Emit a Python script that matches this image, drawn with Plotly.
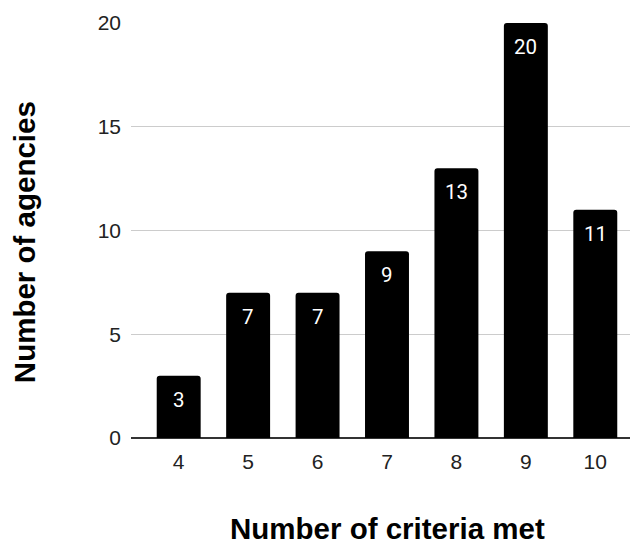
import plotly.graph_objects as go

# Number of criteria met by each agency
criteria = [4, 5, 6, 7, 8, 9, 10]
agencies = [3, 7, 7, 9, 13, 20, 11]
y_ticks = [0, 5, 10, 15, 20]

axis_font = dict(family="Liberation Sans, Arial, sans-serif", size=21, color="#222222")
title_font = dict(family="Liberation Sans, Arial, sans-serif", size=29.5, color="#000000")

fig = go.Figure()
fig.add_trace(go.Bar(
    x=criteria,
    y=agencies,
    width=0.633,
    marker=dict(color="#000000", cornerradius=3, line=dict(width=0)),
    hoverinfo="x+y",
))

# white value labels just below each bar top
for c, v in zip(criteria, agencies):
    fig.add_annotation(
        x=c, y=v, text=str(v), showarrow=False,
        xref="x", yref="y", yanchor="middle", yshift=-24,
        font=dict(family="Roboto, Liberation Sans, sans-serif", size=20.5, color="#ffffff"),
    )

fig.add_annotation(
    text="<b>Number of criteria met</b>", showarrow=False,
    xref="paper", yref="paper", x=0.515, y=-0.2627,
    xanchor="center", yanchor="bottom", font=title_font,
)
fig.add_annotation(
    text="<b>Number of agencies</b>", showarrow=False, textangle=-90,
    xref="paper", yref="paper", x=-0.2144, y=0.472,
    xanchor="center", yanchor="middle", font=title_font,
)

fig.update_layout(
    width=630, height=547,
    margin=dict(l=131, r=0, t=23, b=109),
    paper_bgcolor="#ffffff", plot_bgcolor="#ffffff",
    showlegend=False,
    xaxis=dict(
        range=[3.313, 10.5], tickvals=criteria, ticktext=[str(c) for c in criteria],
        showgrid=False, zeroline=False, showline=False,
        tickfont=axis_font, ticks="", ticklabelstandoff=9,
    ),
    yaxis=dict(
        range=[0, 20], tickvals=y_ticks,
        showgrid=True, gridcolor="#cccccc", gridwidth=1,
        zeroline=True, zerolinecolor="#333333", zerolinewidth=1.5,
        showline=False, tickfont=axis_font, ticks="", ticklabelstandoff=9,
    ),
)

fig.write_html("out.html")
